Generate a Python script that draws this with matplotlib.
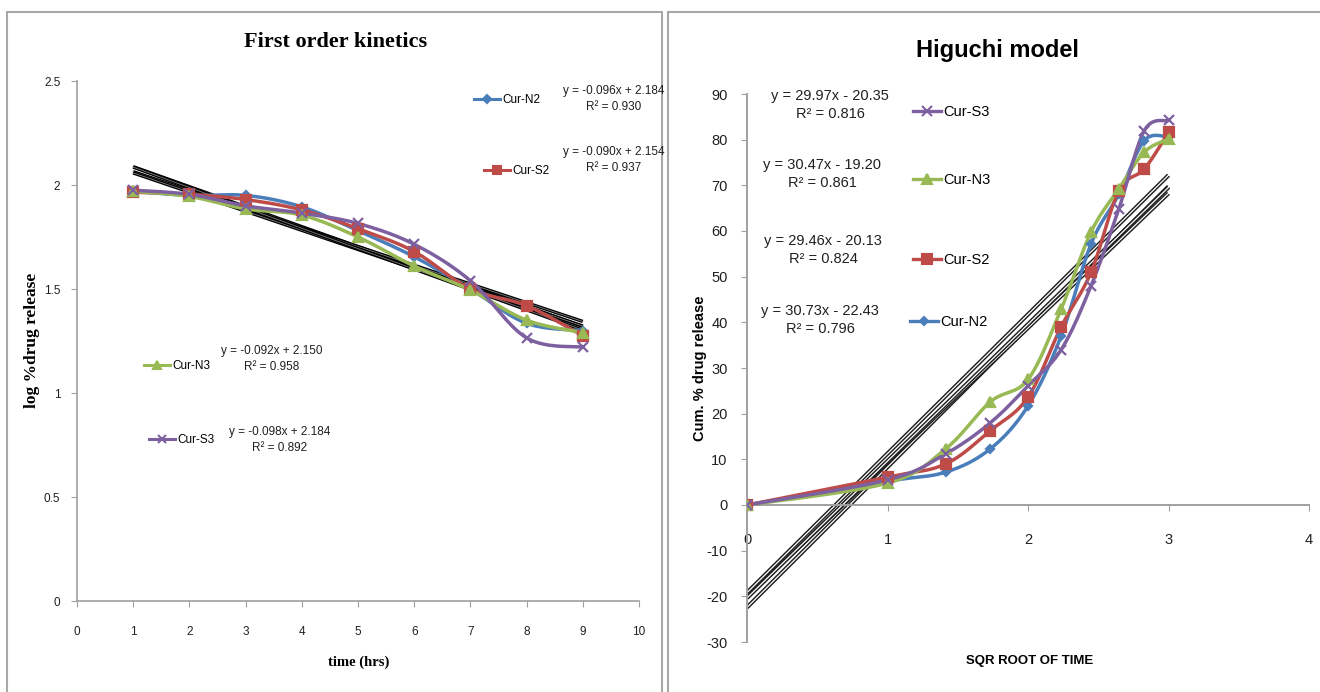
import numpy as np
import matplotlib
matplotlib.use("Agg")
import matplotlib.pyplot as plt
from matplotlib.patches import Rectangle
from matplotlib.lines import Line2D

plt.rcParams["axes.unicode_minus"] = False

# ---------------- data ----------------
fo_time = [1, 2, 3, 4, 5, 6, 7, 8, 9]
fo_N2 = [1.97, 1.95, 1.95, 1.895, 1.78, 1.655, 1.50, 1.335, 1.30]
fo_S2 = [1.965, 1.955, 1.93, 1.88, 1.79, 1.68, 1.50, 1.42, 1.275]
fo_N3 = [1.97, 1.945, 1.885, 1.855, 1.75, 1.61, 1.495, 1.35, 1.29]
fo_S3 = [1.975, 1.955, 1.90, 1.865, 1.815, 1.715, 1.54, 1.265, 1.22]
fo_slope = [-0.096, -0.090, -0.092, -0.098]
fo_icpt = [2.184, 2.154, 2.150, 2.184]
fo_eq = ["y = -0.096x + 2.184\nR² = 0.930", "y = -0.090x + 2.154\nR² = 0.937",
         "y = -0.092x + 2.150\nR² = 0.958", "y = -0.098x + 2.184\nR² = 0.892"]

hg_sqrt_t = [0, 1, 1.414, 1.732, 2, 2.236, 2.449, 2.646, 2.828, 3]
hg_N2 = [0, 5.2, 7.2, 12.3, 21.7, 37.0, 57.2, 68.0, 79.8, 80.6]
hg_S2 = [0, 6.1, 9.0, 16.3, 23.6, 39.0, 51.0, 68.8, 73.6, 81.6]
hg_N3 = [0, 4.8, 12.3, 22.6, 27.5, 42.9, 59.8, 69.2, 77.3, 80.1]
hg_S3 = [0, 5.5, 11.2, 18.0, 26.1, 34.0, 48.0, 64.8, 82.0, 84.2]
hg_slope = [30.73, 29.46, 30.47, 29.97]
hg_icpt = [-22.43, -20.13, -19.20, -20.35]
hg_eq = ["y = 30.73x - 22.43\nR² = 0.796", "y = 29.46x - 20.13\nR² = 0.824",
         "y = 30.47x - 19.20\nR² = 0.861", "y = 29.97x - 20.35\nR² = 0.816"]

names = ["Cur-N2", "Cur-S2", "Cur-N3", "Cur-S3"]
colors = ["#4a7ebb", "#be4b48", "#98b954", "#7d60a0"]
markers = ["D", "s", "^", "x"]
msizes = [4.5, 7, 7.5, 7]

SANS = ["Liberation Sans", "DejaVu Sans"]
SERIF = ["Liberation Serif", "DejaVu Serif"]


def smooth(x, y, n=20):
    """Excel-style smoothed line (cubic Bezier, tension 1/6)."""
    P = np.column_stack([x, y]).astype(float)
    out = [P[0]]
    m = len(P)
    t = np.linspace(0, 1, n)[1:, None]
    for i in range(m - 1):
        p0 = P[i - 1] if i > 0 else P[i]
        p1, p2 = P[i], P[i + 1]
        p3 = P[i + 2] if i + 2 < m else P[i + 1]
        c1 = p1 + (p2 - p0) / 6.0
        c2 = p2 - (p3 - p1) / 6.0
        seg = ((1 - t) ** 3) * p1 + 3 * ((1 - t) ** 2) * t * c1 + 3 * (1 - t) * t ** 2 * c2 + t ** 3 * p2
        out.extend(seg)
    out = np.array(out)
    return out[:, 0], out[:, 1]


W, H = 1320, 692
fig = plt.figure(figsize=(W / 100, H / 100), dpi=100)


def fx(px):
    return px / W


def fy(py):
    return 1 - py / H


# panel borders
for (x0, x1) in [(7, 662), (668, 1322)]:
    fig.add_artist(Rectangle((fx(x0), fy(700)), fx(x1 - x0), (700 - 12) / H,
                             transform=fig.transFigure, fill=False,
                             edgecolor="#a8a8a8", lw=1.5))

spine_c = "#a0a0a0"

# ---------------- left: first order ----------------
axL = fig.add_axes([fx(77), fy(601), fx(639 - 77), (601 - 81) / H])
fo_series = [fo_N2, fo_S2, fo_N3, fo_S3]
xs = np.array([fo_time[0], fo_time[-1]])
for s, b in zip(fo_slope, fo_icpt):
    axL.plot(xs, s * xs + b, color="black", lw=2.4, solid_capstyle="butt", zorder=2)
    axL.plot(xs, s * xs + b, color="#808080", lw=0.6, zorder=2)
for ys, c, m, ms in zip(fo_series, colors, markers, msizes):
    sx, sy = smooth(fo_time, ys)
    axL.plot(sx, sy, color=c, lw=2.5, zorder=3)
    axL.plot(fo_time, ys, ls="none", marker=m, color=c, ms=ms, mew=1.6, zorder=4)
axL.set_xlim(0, 10)
axL.set_ylim(0, 2.5)
axL.set_xticks(range(0, 11))
axL.set_yticks([0, 0.5, 1, 1.5, 2, 2.5])
axL.set_yticklabels(["0", "0.5", "1", "1.5", "2", "2.5"])
for sp in ["top", "right"]:
    axL.spines[sp].set_visible(False)
for sp in ["left", "bottom"]:
    axL.spines[sp].set_color(spine_c)
    axL.spines[sp].set_linewidth(1.2)
axL.tick_params(direction="out", length=4, color=spine_c, labelsize=8.5, labelcolor="#202020")
axL.tick_params(axis="x", pad=14)
axL.tick_params(axis="y", pad=8)
for lab in axL.get_xticklabels() + axL.get_yticklabels():
    lab.set_family(SANS)

fig.text(fx(336), fy(42), "First order kinetics", family=SERIF, weight="bold",
         fontsize=16, ha="center", va="center")
fig.text(fx(32), fy(340), "log %drug release", family=SERIF, weight="bold",
         fontsize=12.5, ha="center", va="center", rotation=90)
fig.text(fx(359), fy(662), "time (hrs)", family=SERIF, weight="bold",
         fontsize=10.5, ha="center", va="center")

# legends / equations (left)
fo_leg_pos = [(480, 100), (490, 171), (150, 366), (155, 440)]
fo_eq_pos = [(614, 99), (614, 160), (272, 359), (280, 440)]
for i in range(4):
    lx, ly = fo_leg_pos[i]
    h = Line2D([], [], color=colors[i], marker=markers[i], ms=msizes[i] * 0.85, lw=2.2, mew=1.5)
    fig.legend([h], [names[i]], loc="center left",
               bbox_to_anchor=(fx(lx - 6), fy(ly)), frameon=False,
               handlelength=2.2, handletextpad=0.2, borderpad=0, borderaxespad=0,
               prop={"family": SANS, "size": 8.5})
    ex, ey = fo_eq_pos[i]
    fig.text(fx(ex), fy(ey), fo_eq[i], family=SANS, fontsize=8.5, ha="center",
             va="center", multialignment="center", linespacing=1.4, color="#202020")

# ---------------- right: Higuchi ----------------
axR = fig.add_axes([fx(747), fy(642), fx(1309 - 747), (642 - 94) / H])
hg_series = [hg_N2, hg_S2, hg_N3, hg_S3]
xs = np.array([0, hg_sqrt_t[-1]])
for s, b in zip(hg_slope, hg_icpt):
    axR.plot(xs, s * xs + b, color="#202020", lw=3.0, solid_capstyle="butt", zorder=2)
    axR.plot(xs, s * xs + b, color="white", lw=0.9, zorder=2)
for ys, c, m, ms in zip(hg_series, colors, markers, msizes):
    sx, sy = smooth(hg_sqrt_t, ys)
    axR.plot(sx, sy, color=c, lw=2.5, zorder=3)
    axR.plot(hg_sqrt_t, ys, ls="none", marker=m, color=c, ms=ms, mew=1.6, zorder=4)
axR.set_xlim(0, 4)
axR.set_ylim(-30, 90)
axR.set_xticks(range(0, 5))
axR.set_yticks(range(-30, 91, 10))
axR.spines["bottom"].set_position(("data", 0))
for sp in ["top", "right"]:
    axR.spines[sp].set_visible(False)
for sp in ["left", "bottom"]:
    axR.spines[sp].set_color(spine_c)
    axR.spines[sp].set_linewidth(1.4)
axR.tick_params(direction="out", length=4, color=spine_c, labelsize=10.5, labelcolor="#202020")
axR.tick_params(axis="x", pad=16)
axR.tick_params(axis="y", pad=10)
for lab in axR.get_xticklabels() + axR.get_yticklabels():
    lab.set_family(SANS)

fig.text(fx(997), fy(50), "Higuchi model", family=SANS, weight="bold",
         fontsize=17, ha="center", va="center")
fig.text(fx(700), fy(368), "Cum. % drug release", family=SANS, weight="bold",
         fontsize=10.5, ha="center", va="center", rotation=90)
fig.text(fx(1030), fy(661), "SQR ROOT OF TIME", family=SANS, weight="bold",
         fontsize=9.5, ha="center", va="center")

hg_leg_pos = [(912, 322), (915, 260), (915, 180), (915, 112)]
hg_eq_pos = [(820, 320), (823, 250), (822, 174), (830, 105)]
for i in range(4):
    lx, ly = hg_leg_pos[i]
    h = Line2D([], [], color=colors[i], marker=markers[i], ms=msizes[i], lw=2.4, mew=1.5)
    fig.legend([h], [names[i]], loc="center left",
               bbox_to_anchor=(fx(lx - 2), fy(ly)), frameon=False,
               handlelength=1.9, handletextpad=0.2, borderpad=0, borderaxespad=0,
               prop={"family": SANS, "size": 10.5})
    ex, ey = hg_eq_pos[i]
    fig.text(fx(ex), fy(ey), hg_eq[i], family=SANS, fontsize=10.5, ha="center",
             va="center", multialignment="center", linespacing=1.45, color="#202020")

fig.savefig("out.png", dpi=100, facecolor="white")
